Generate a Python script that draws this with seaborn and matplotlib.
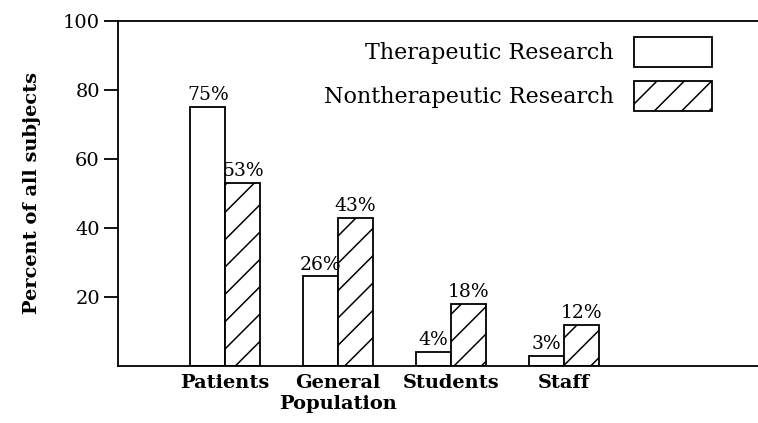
import matplotlib
matplotlib.use("Agg")
import matplotlib.pyplot as plt
import seaborn as sns
import pandas as pd

# ============================
# DATA
# ============================
groups = ["Patients", "General\nPopulation", "Students", "Staff"]
therapeutic = [75, 26, 4, 3]
nontherapeutic = [53, 43, 18, 12]
series_names = ["Therapeutic Research", "Nontherapeutic Research"]

df = pd.DataFrame({
    "group": groups * 2,
    "pct": therapeutic + nontherapeutic,
    "kind": [series_names[0]] * len(groups) + [series_names[1]] * len(groups),
})

# lower dpi makes the hatch a bit denser; S keeps sizes in pixels the same
DPI = 82
S = 100 / DPI

# ============================
# PLOT
# ============================
sns.set_style("white")
plt.rcParams["font.family"] = ["DejaVu Serif"]
plt.rcParams["text.color"] = "black"
plt.rcParams["axes.labelcolor"] = "black"
plt.rcParams["xtick.color"] = "black"
plt.rcParams["ytick.color"] = "black"
plt.rcParams["hatch.linewidth"] = 1.1 * S

fig = plt.figure(figsize=(758 / DPI, 423 / DPI), dpi=DPI)
ax = fig.add_axes([0.1557, 0.1348, 0.8443, 0.8156])

sns.barplot(data=df, x="group", y="pct", hue="kind", order=groups,
            hue_order=series_names, palette=["white", "white"],
            edgecolor="black", linewidth=1.3 * S, width=0.62, ax=ax,
            legend=False)

# hatch the nontherapeutic bars
for bar in ax.containers[1]:
    bar.set_hatch("/")

for cont in ax.containers:
    ax.bar_label(cont, fmt="%d%%", padding=2 * S, fontsize=13.5 * S)

ax.set_ylim(0, 100)
ax.set_xlim(-0.95, 4.72)
ax.set_yticks([20, 40, 60, 80, 100])
ax.tick_params(axis="y", direction="out", length=10 * S, width=1.3 * S,
               left=True, labelsize=14 * S, pad=3 * S)
ax.tick_params(axis="x", length=0, labelsize=14 * S, pad=6 * S)
for lab in ax.get_xticklabels():
    lab.set_fontweight("bold")

ax.set_xlabel("")
ax.set_ylabel("Percent of all subjects", fontsize=14 * S, fontweight="bold",
              labelpad=16 * S)

for side in ["left", "top", "bottom"]:
    ax.spines[side].set_visible(True)
    ax.spines[side].set_linewidth(1.3 * S)
    ax.spines[side].set_color("black")
ax.spines["right"].set_visible(False)

leg = ax.legend([ax.containers[0][0], ax.containers[1][0]], series_names,
                loc="upper right", bbox_to_anchor=(0.960, 1.012),
                frameon=False, markerfirst=False, fontsize=16 * S,
                handlelength=3.55, handleheight=1.72, labelspacing=0.62,
                handletextpad=0.9)

fig.savefig("out.png", dpi=DPI)
